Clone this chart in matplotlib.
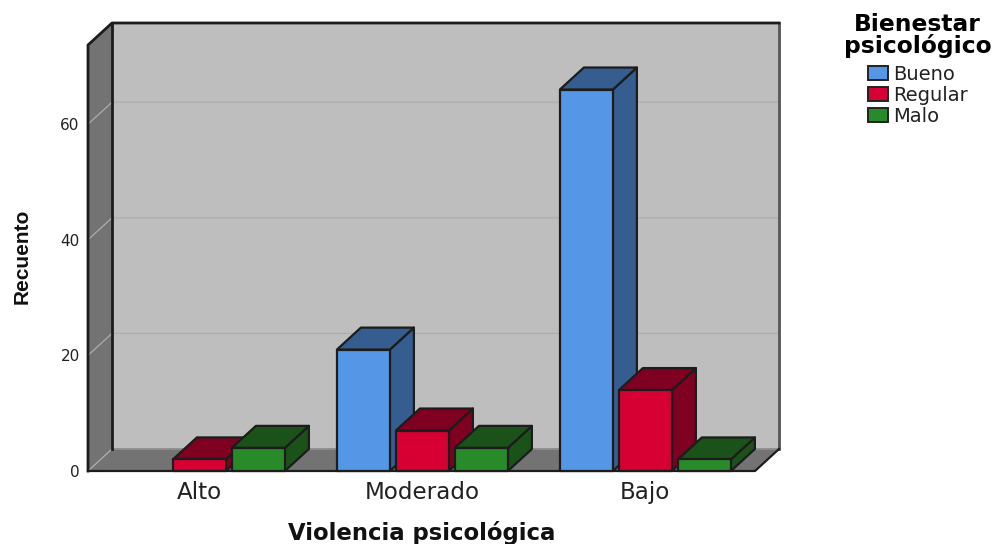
import matplotlib
matplotlib.use("Agg")
import matplotlib.pyplot as plt
from matplotlib.patches import Polygon, Patch

categories = ["Alto", "Moderado", "Bajo"]
series_names = ["Bueno", "Regular", "Malo"]
bueno = [0, 21, 66]
regular = [2, 7, 14]
malo = [4, 4, 2]
yticks = [0, 20, 40, 60]

front_colors = ["#5596e6", "#d60032", "#298a2a"]
side_colors = ["#355d8f", "#7f0020", "#1a521a"]
WALL = "#737373"
BACK = "#bebebe"
GRID = "#adadad"
EDGE = "#1c1c1c"

W, H = 992, 544
fig = plt.figure(figsize=(W / 100, H / 100), dpi=100, facecolor="white")
# plot box in pixels
L, R, T, B = 88, 779, 23, 471
ax = fig.add_axes([L / W, 1 - B / H, (R - L) / W, (B - T) / H])
PX_X = 223.0       # pixels per category
PX_Y = 5.78        # pixels per count
x0 = -(199.4 - L) / PX_X
ax.set_xlim(x0, x0 + (R - L) / PX_X)
ax.set_ylim(0, (B - T) / PX_Y)
dx = 24 / PX_X     # oblique depth
dy = 22 / PX_Y
xf = x0 + (755 - L) / PX_X
ytop = (B - T) / PX_Y - dy

def poly(pts, fc, ec=EDGE, lw=1.6, z=1):
    ax.add_patch(Polygon(pts, closed=True, facecolor=fc, edgecolor=ec, linewidth=lw,
                         joinstyle="round", zorder=z, clip_on=False))

# back wall, floor, left wall
poly([(x0 + dx, dy), (xf + dx, dy), (xf + dx, ytop + dy), (x0 + dx, ytop + dy)], BACK, ec="none", z=1)
poly([(x0, 0), (xf, 0), (xf + dx, dy), (x0 + dx, dy)], WALL, ec="none", z=1)
poly([(x0, 0), (x0 + dx, dy), (x0 + dx, ytop + dy), (x0, ytop)], WALL, ec="none", z=1)

# gridlines wrapping wall and back
for v in yticks:
    ax.plot([x0, x0 + dx, xf + dx], [v, v + dy, v + dy], color=GRID, lw=0.9, zorder=2,
            solid_capstyle="butt", clip_on=False)

# frame
ax.plot([x0 + dx, xf + dx], [dy, dy], color="#8a8a8a", lw=1.2, zorder=2)
ax.plot([xf + dx, xf + dx], [dy, ytop + dy], color="#555555", lw=2, zorder=2, clip_on=False)
ax.plot([x0, x0, x0 + dx, xf + dx], [0, ytop, ytop + dy, ytop + dy], color=EDGE, lw=2, zorder=2, clip_on=False)
ax.plot([x0 + dx, x0 + dx], [dy, ytop + dy], color=EDGE, lw=2, zorder=2)
ax.plot([x0, xf, xf + dx], [0, 0, dy], color=EDGE, lw=1.6, zorder=2, clip_on=False)

# bars
pitch = 59 / PX_X
width = 53 / PX_X
z = 3
for c in range(len(categories)):
    for s, vals in enumerate([bueno, regular, malo]):
        v = vals[c]
        if v <= 0:
            continue
        l = c + (s - 1) * pitch - width / 2
        r = l + width
        poly([(r, 0), (r + dx, dy), (r + dx, v + dy), (r, v)], side_colors[s], z=z)
        poly([(l, v), (r, v), (r + dx, v + dy), (l + dx, v + dy)], side_colors[s], z=z)
        poly([(l, 0), (r, 0), (r, v), (l, v)], front_colors[s], z=z)
        z += 1

for sp in ax.spines.values():
    sp.set_visible(False)
ax.patch.set_visible(False)
ax.set_xticks(range(len(categories)), categories)
ax.set_yticks(yticks)
ax.tick_params(axis="x", length=0, pad=7, labelsize=16.6, labelcolor="#222222")
ax.tick_params(axis="y", length=0, pad=6, labelsize=11, labelcolor="#222222")
for t in ax.get_xticklabels():
    t.set_fontfamily("DejaVu Sans")
for t in ax.get_yticklabels():
    t.set_fontfamily("DejaVu Sans")

fig.text(422 / W, 1 - 533 / H, "Violencia psicológica", ha="center", va="center",
         fontsize=16.4, fontweight="bold", family="DejaVu Sans", color="#111111")
fig.text(22 / W, 1 - 256 / H, "Recuento", rotation=90, ha="center", va="center",
         fontsize=15, fontweight="bold", family=["Liberation Sans Narrow", "Liberation Sans"], color="#111111")

handles = [Patch(facecolor=c, edgecolor="#222222", linewidth=1.4) for c in front_colors]
leg = fig.legend(handles, series_names, title="Bienestar\npsicológico",
                 loc="upper left", bbox_to_anchor=(844 / W, 1 - 13 / H),
                 frameon=False, fontsize=14, handlelength=1.03, handleheight=0.72,
                 handletextpad=0.3, labelspacing=0.1, borderpad=0, borderaxespad=0,
                 title_fontproperties={"weight": "bold", "size": 16.8, "family": "DejaVu Sans"})
leg.get_title().set_linespacing(0.9)
leg.get_title().set_multialignment("center")
for t in leg.get_texts():
    t.set_color("#222222")
leg._legend_box.align = "center"
leg._legend_box.sep = 5

fig.savefig("out.png", dpi=100, facecolor="white")
